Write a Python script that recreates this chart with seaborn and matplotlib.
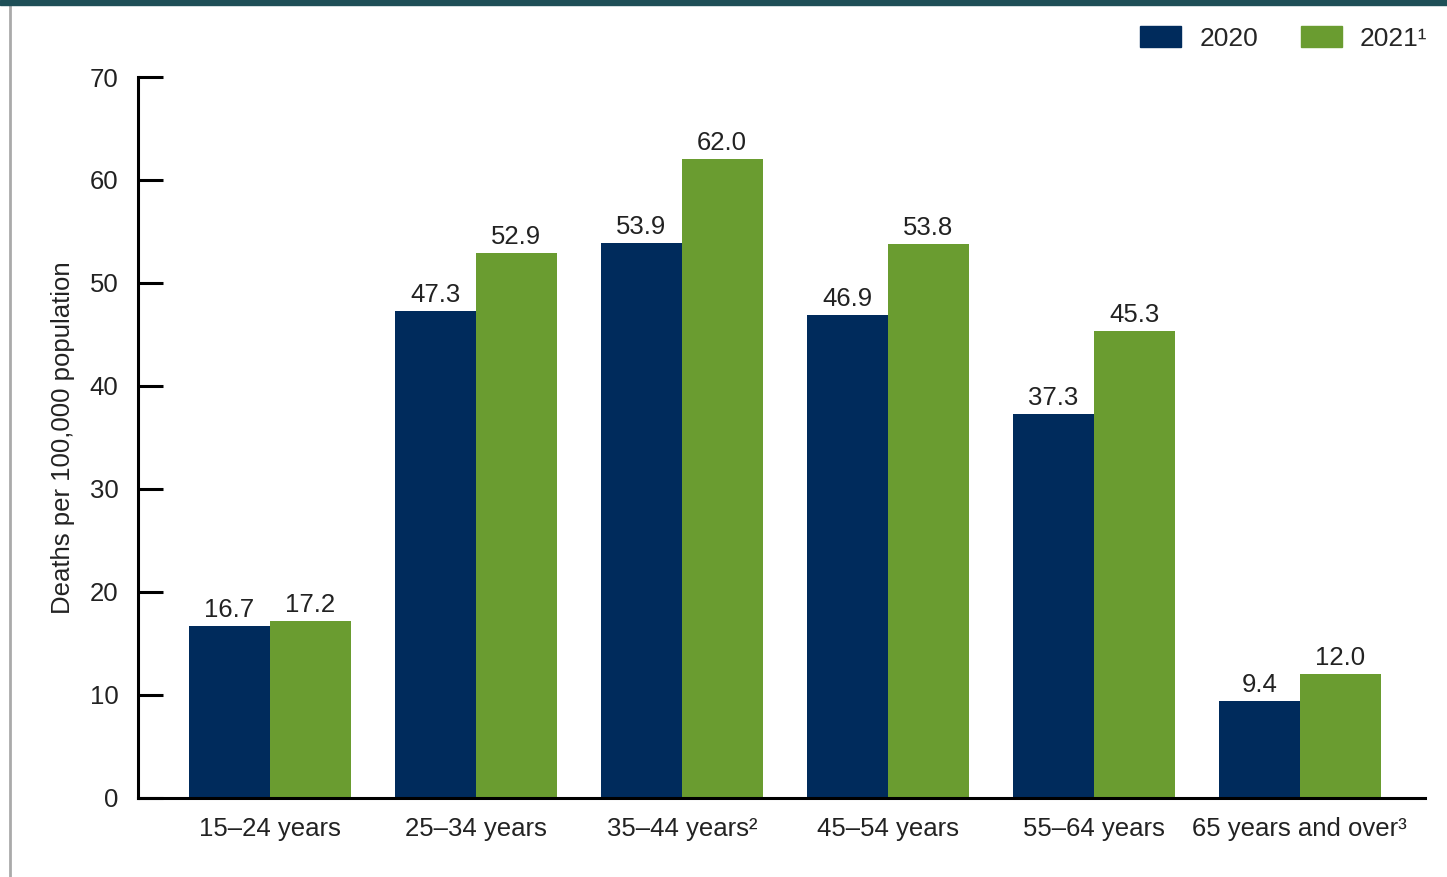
import matplotlib
matplotlib.use("Agg")
import matplotlib.pyplot as plt
import seaborn as sns
import pandas as pd
from matplotlib.patches import Rectangle
from matplotlib.lines import Line2D

categories = ["15–24 years", "25–34 years", "35–44 years²", "45–54 years", "55–64 years", "65 years and over³"]
values_2020 = [16.7, 47.3, 53.9, 46.9, 37.3, 9.4]
values_2021 = [17.2, 52.9, 62.0, 53.8, 45.3, 12.0]
series = ["2020", "2021¹"]
yticks = [0, 10, 20, 30, 40, 50, 60, 70]

df = pd.DataFrame({
    "age": categories * 2,
    "year": [series[0]] * len(categories) + [series[1]] * len(categories),
    "rate": values_2020 + values_2021,
})

sns.set_theme(style="white")
plt.rcParams["font.family"] = ["Liberation Sans", "DejaVu Sans"]

fig = plt.figure(figsize=(14.47, 8.77), dpi=100)
ax = fig.add_axes([0.0954, 0.0901, 0.8896, 0.8221])

colors = ["#002B5C", "#6A9C30"]
sns.barplot(data=df, x="age", y="rate", hue="year", palette=colors,
            width=0.786, saturation=1, ax=ax, legend=False, edgecolor="none")

for cont in ax.containers:
    ax.bar_label(cont, fmt="%.1f", padding=3, fontsize=18.5, color="#222222")

ax.set_ylim(0, 70)
ax.set_xlim(-0.64, 5.61)
ax.set_yticks(yticks)
ax.set_yticklabels([str(t) for t in yticks], fontsize=18.5, color="#222222")
ax.tick_params(axis="y", left=True, direction="in", length=18, width=2.2, color="black", pad=14)
ax.tick_params(axis="x", bottom=False, length=0, labelsize=18.5, labelcolor="#222222", pad=14)
ax.set_xlabel("")
ax.set_ylabel("Deaths per 100,000 population", fontsize=18.5, color="#222222", labelpad=11)

for s in ["top", "right"]:
    ax.spines[s].set_visible(False)
for s in ["left", "bottom"]:
    ax.spines[s].set_color("black")
    ax.spines[s].set_linewidth(2.2)

# legend
handles = [Rectangle((0, 0), 1, 1, color=c) for c in colors]
fig.legend(handles, series, loc="upper right", bbox_to_anchor=(1.003, 0.997), ncol=2,
           frameon=False, fontsize=19, handlelength=1.55, handleheight=0.85,
           columnspacing=1.6, handletextpad=0.7)

# decoration: top band and left rule
fig.patches.append(Rectangle((0, 1 - 5 / 877), 1, 5 / 877, transform=fig.transFigure,
                             color="#1E4F57", zorder=10))
fig.lines.append(Line2D([9.5 / 1447, 9.5 / 1447], [0, 1 - 5 / 877], transform=fig.transFigure,
                        color="#AAAAAA", linewidth=2))

fig.savefig("out.png", dpi=100, facecolor="white")
